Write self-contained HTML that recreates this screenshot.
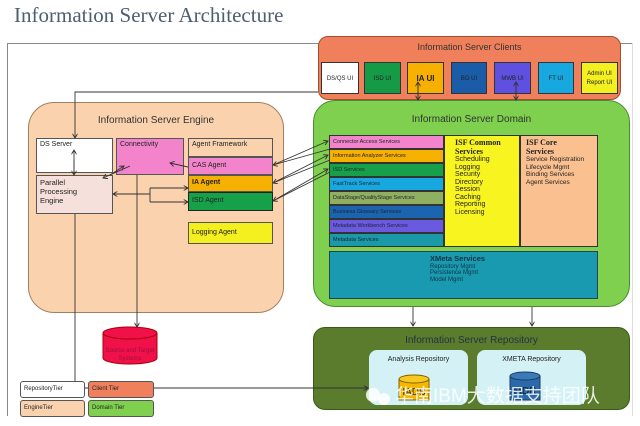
<!DOCTYPE html>
<html><head><meta charset="utf-8"><style>
body{margin:0;width:640px;height:426px;background:#fff;position:relative;overflow:hidden;font-family:"Liberation Sans",sans-serif}
div{position:absolute;box-sizing:border-box}
.b{border:1px solid #555;font-size:7px;padding:2px 3px;color:#222}
.t{font-size:10px;color:#333;text-align:center;white-space:nowrap}
.s{left:0;width:115px;height:14px;border:1px solid #333;font-size:5.5px;padding:3px 3px;color:#223}
.cb{top:25px;height:32px;border:1px solid #333;font-size:6px;text-align:center;line-height:32px;color:#222}
</style></head><body>
<div style="left:14px;top:3px;font-family:'Liberation Serif',serif;font-size:21px;color:#4e5e70">Information Server Architecture</div>
<div style="left:7px;top:43px;width:626px;height:373px;border:1px solid #888;border-right:none;border-bottom:none"></div>
<div style="left:632px;top:43px;width:1px;height:373px;background:#ddd"></div>

<!-- clients -->
<div style="left:318px;top:36px;width:303px;height:64px;background:#f0805c;border:1px solid #a05030;border-radius:10px">
<div class="t" style="left:0;width:100%;top:5px;font-size:9px">Information Server Clients</div>
<div class="cb" style="left:2px;width:38px;background:#fff">DS/QS UI</div>
<div class="cb" style="left:45px;width:37px;background:#159a48">ISD UI</div>
<div class="cb" style="left:88px;width:37px;background:#f8b000;font-size:8px;font-weight:bold">IA UI</div>
<div class="cb" style="left:132px;width:36px;background:#1a5ca8">BG UI</div>
<div class="cb" style="left:175px;width:37px;background:#6050e0">MWB UI</div>
<div class="cb" style="left:219px;width:36px;background:#18a8e0">FT UI</div>
<div class="cb" style="left:262px;width:37px;background:#f4f020;line-height:9px;padding-top:7px">Admin UI<br>Report UI</div>
</div>

<!-- engine -->
<div style="left:28px;top:102px;width:256px;height:211px;background:#fbd2ae;border:1px solid #a08060;border-radius:26px">
<div class="t" style="left:0;width:100%;top:12px">Information Server Engine</div></div>
<div class="b" style="left:36px;top:138px;width:77px;height:35px;background:#fff">DS Server</div>
<div class="b" style="left:116px;top:138px;width:68px;height:37px;background:#f384cc">Connectivity</div>
<div class="b" style="left:36px;top:175px;width:77px;height:39px;background:#f6e0dc;line-height:9px;font-size:7.5px">Parallel<br>Processing<br>Engine</div>
<div class="b" style="left:188px;top:138px;width:85px;height:19px;background:#fbd2ae">Agent Framework</div>
<div class="b" style="left:188px;top:157px;width:85px;height:18px;background:#f384cc;padding-top:4px">CAS Agent</div>
<div class="b" style="left:188px;top:175px;width:85px;height:17px;background:#f6b000;font-weight:bold;padding-top:3px">IA Agent</div>
<div class="b" style="left:188px;top:192px;width:85px;height:19px;background:#17a04a;border:1.5px solid #222;padding-top:4px">ISD Agent</div>
<div class="b" style="left:188px;top:222px;width:85px;height:22px;background:#f4f020;padding-top:6px">Logging Agent</div>

<!-- domain -->
<div style="left:313px;top:100px;width:317px;height:207px;background:#7ed04e;border:1px solid #4a8a30;border-radius:22px">
<div class="t" style="left:0;width:100%;top:13px">Information Server Domain</div>
<div style="left:15px;top:34px;width:115px;height:112px">
<div class="s" style="top:0;background:#f384cc">Connector Access Services</div>
<div class="s" style="top:14px;background:#f6b000">Information Analyzer Services</div>
<div class="s" style="top:28px;background:#17a04a">ISD Services</div>
<div class="s" style="top:42px;background:#18a8e0">FastTrack Services</div>
<div class="s" style="top:56px;background:#8fb060">DataStage/QualityStage Services</div>
<div class="s" style="top:70px;background:#1a64b0">Business Glossary Services</div>
<div class="s" style="top:84px;background:#6a5ae0">Metadata Workbench Services</div>
<div class="s" style="top:98px;background:#1a9aa8">Metadata Services</div>
</div>
<div style="left:130px;top:34px;width:76px;height:112px;background:#f8f420;border:1px solid #333;font-size:7px;line-height:7.5px;padding:3px 10px;color:#222"><b style="font-size:8px;line-height:8px;font-family:'Liberation Serif',serif">ISF Common<br>Services</b><br>Scheduling<br>Logging<br>Security<br>Directory<br>Session<br>Caching<br>Reporting<br>Licensing</div>
<div style="left:206px;top:34px;width:78px;height:112px;background:#fbc090;border:1px solid #333;font-size:6.5px;line-height:7.5px;padding:3px 5px;color:#222"><b style="font-size:8px;line-height:8px;font-family:'Liberation Serif',serif">ISF Core<br>Services</b><br>Service Registration<br>Lifecycle Mgmt<br>Binding Services<br>Agent Services</div>
<div style="left:15px;top:150px;width:269px;height:48px;background:#1a9ab0;border:1px solid #245;font-size:6px;line-height:6.5px;padding:4px 0 0 100px;color:#134"><b style="font-size:7.5px">XMeta Services</b><br>Repository Mgmt<br>Persistence Mgmt<br>Model Mgmt</div>
</div>

<!-- repository -->
<div style="left:313px;top:327px;width:317px;height:83px;background:#5a7c2c;border:1px solid #3a5a1a;border-radius:12px">
<div class="t" style="left:0;width:100%;top:7px;color:#234">Information Server Repository</div>
<div style="left:55px;top:22px;width:99px;height:55px;background:#d4f2f6;border-radius:8px;font-size:7px;text-align:center;padding-top:6px;color:#222">Analysis Repository</div>
<div style="left:163px;top:22px;width:109px;height:55px;background:#d4f2f6;border-radius:8px;font-size:7px;text-align:center;padding-top:6px;color:#222">XMETA Repository</div>
</div>
<svg style="position:absolute;left:0;top:0" width="640" height="426">
<defs><marker id="a" markerWidth="6" markerHeight="6" refX="5" refY="3" orient="auto"><path d="M0,0L5,3L0,6" fill="none" stroke="#333"/></marker></defs>
<g stroke="#333" stroke-width="0.9" fill="none">
<path d="M318,92H75V138" marker-end="url(#a)"/>
<path d="M75,214V388H368" marker-end="url(#a)"/>
<path d="M137,175V327" marker-end="url(#a)"/>
<path d="M74,172V150" marker-end="url(#a)"/><path d="M74,160V175" marker-end="url(#a)"/>
<path d="M130,166L103,178" marker-end="url(#a)"/><path d="M110,175L124,166" marker-end="url(#a)"/>
<path d="M188,167L170,163" marker-end="url(#a)"/>
<path d="M150,194H113" marker-end="url(#a)"/>
<path d="M150,188V202M150,188H188" marker-end="url(#a)"/><path d="M150,202H188" marker-end="url(#a)"/>
<path d="M330,149L273,165" marker-end="url(#a)"/><path d="M273,165L328,141" marker-end="url(#a)"/>
<path d="M330,160L273,183" marker-end="url(#a)"/><path d="M273,183L328,155" marker-end="url(#a)"/>
<path d="M330,172L273,201" marker-end="url(#a)"/><path d="M273,201L328,169" marker-end="url(#a)"/>
<path d="M418,100V82" marker-end="url(#a)"/><path d="M418,84V100" marker-end="url(#a)"/>
<path d="M516,100V82" marker-end="url(#a)"/><path d="M516,84V100" marker-end="url(#a)"/>
<path d="M413,307V326" marker-end="url(#a)"/><path d="M532,307V326" marker-end="url(#a)"/>
</g>
<path d="M103,333V358A27,6 0 0 0 157,358V333" fill="#f0104a" stroke="#a00"/>
<ellipse cx="130" cy="333" rx="27" ry="6" fill="#f0104a" stroke="#a00"/>
<text x="130" y="352" font-size="6" fill="#a0103a" text-anchor="middle" font-family="Liberation Sans">Source and Target</text>
<text x="130" y="360" font-size="6" fill="#a0103a" text-anchor="middle" font-family="Liberation Sans">Systems</text>
<path d="M399,379V400H429V379" fill="#f4b800" stroke="#806000"/>
<ellipse cx="414" cy="379" rx="15" ry="4" fill="#f8c820" stroke="#806000"/>
<text x="414" y="395" font-size="10" fill="#333" text-anchor="middle" font-family="Liberation Sans">IADB</text>
<path d="M510,376V400H540V376" fill="#2a6aaa" stroke="#1a3a60"/>
<ellipse cx="525" cy="376" rx="15" ry="4" fill="#3a7ab8" stroke="#1a3a60"/>
<text x="525" y="394" font-size="10" fill="#123" text-anchor="middle" font-family="Liberation Sans">MDR</text>
<text x="395" y="402" font-size="19" fill="#fff" fill-opacity="0.85" font-family="Liberation Sans,Noto Sans CJK SC,sans-serif">华南IBM大数据支持团队</text>
<circle cx="373" cy="395" r="7" fill="#fff" fill-opacity="0.85"/><circle cx="384" cy="399" r="6" fill="#fff" fill-opacity="0.85"/>
</svg>

<div class="b" style="left:20px;top:381px;width:65px;height:17px;background:#fff;border-radius:3px;font-size:6px;padding-top:4px">RepositoryTier</div>
<div class="b" style="left:88px;top:381px;width:66px;height:17px;background:#f0805c;border-radius:3px;font-size:6px;padding-top:4px">Client Tier</div>
<div class="b" style="left:20px;top:400px;width:65px;height:17px;background:#fbd2ae;border-radius:3px;font-size:6px;padding-top:4px">EngineTier</div>
<div class="b" style="left:88px;top:400px;width:66px;height:17px;background:#7ed04e;border-radius:3px;font-size:6px;padding-top:4px">Domain Tier</div>
</body></html>
